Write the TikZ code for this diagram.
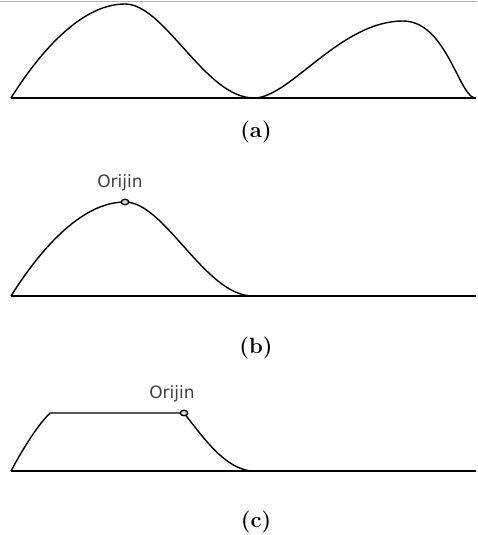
\documentclass[tikz,border=0pt]{standalone}
\usepackage{fontspec}
\usetikzlibrary{shapes.geometric}
\newfontfamily\orifont{DejaVu Sans}
\begin{document}
\begin{tikzpicture}[x=1pt,y=-1pt,
  curve/.style={line width=1.4pt,black},
  base/.style={line width=1.7pt,black},
  marker/.style={draw=black,fill=black!15,line width=1.3pt,ellipse,inner sep=0pt,minimum width=7.5pt,minimum height=5.5pt},
  origintext/.style={font=\orifont\fontsize{17}{19}\selectfont,text=black!75,inner sep=0pt},
  caption/.style={font=\bfseries\fontsize{22}{24}\selectfont,inner sep=0pt}]
\useasboundingbox (0,0) rectangle (477,535);
\draw[line width=0.8pt,black!30] (0,1) -- (477,1);
% (a)
\coordinate (a0) at (11,98);
\coordinate (a1) at (476,98);
\draw[base] (a0) -- (a1);
\draw[curve] (a0) .. controls (38,55) and (80,4) .. (125,4)
  .. controls (165,4) and (205,98) .. (254,98)
  .. controls (290,98) and (340,21) .. (403,21)
  .. controls (445,21) and (458,92) .. (474,98);
\node[caption] (la) at (256,132) {(a)};
% (b)
\coordinate (b0) at (11,296);
\coordinate (b1) at (476,296);
\draw[base] (b0) -- (b1);
\draw[curve] (b0) .. controls (38,253) and (80,202) .. (125,202)
  .. controls (165,202) and (205,296) .. (253,296);
\node[marker] (ob) at (125,202) {};
\node[origintext] (tb) at (120,183) {Orijin};
\node[caption] (lb) at (256,348) {(b)};
% (c)
\coordinate (c0) at (11,471);
\coordinate (c1) at (476,471);
\coordinate (c2) at (50,413);
\draw[base] (c0) -- (c1);
\draw[curve] (c0) .. controls (25,445) and (38,425) .. (c2) -- (184,413)
  .. controls (205,440) and (225,468) .. (251,471);
\node[marker] (oc) at (184,413) {};
\node[origintext] (tc) at (172,394) {Orijin};
\node[caption] (lc) at (256,522) {(c)};
\end{tikzpicture}
\end{document}
